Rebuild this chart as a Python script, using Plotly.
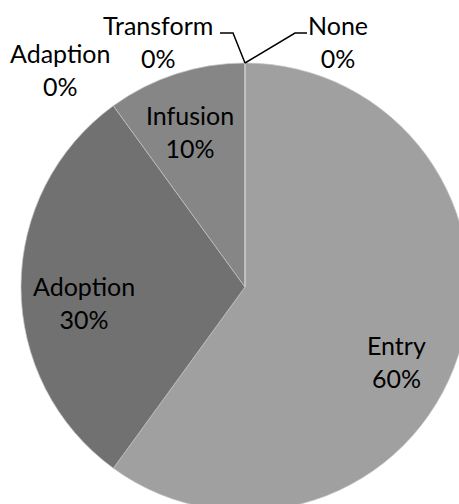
import plotly.graph_objects as go

# Data
categories = ["None", "Entry", "Adoption", "Infusion", "Adaption", "Transform"]
values = [0, 60, 30, 10, 0, 0]
colors = ["#a8a8a8", "#a0a0a0", "#717171", "#868686", "#7a7a7a", "#8e8e8e"]

# Label block centres in pixels (layout only)
label_pos = {
    "None": (338, 42),
    "Entry": (396, 361),
    "Adoption": (84, 302),
    "Infusion": (190, 131),
    "Adaption": (60, 69),
    "Transform": (158, 42),
}

W, H = 490, 574
CX, CY, R = 245, 287, 224

total = sum(values)
fig = go.Figure(go.Pie(
    labels=categories,
    values=values,
    sort=False,
    direction="clockwise",
    rotation=0,
    marker=dict(colors=colors, line=dict(color="#c4c4c4", width=0.7)),
    textinfo="none",
    hoverinfo="label+percent",
    showlegend=False,
    domain=dict(x=[(CX - R) / W, (CX + R) / W], y=[1 - (CY + R) / H, 1 - (CY - R) / H]),
))

annotations = []
for cat, val in zip(categories, values):
    px, py = label_pos[cat]
    pct = round(100 * val / total)
    annotations.append(dict(
        x=px / W, y=1 - py / H, xref="paper", yref="paper",
        text=f"{cat}<br>{pct}%", showarrow=False,
        xanchor="center", yanchor="middle",
        font=dict(family="Lato", size=25, color="black"),
    ))

# Leader lines for the zero slices
shapes = [
    dict(type="path", xref="paper", yref="paper",
         path=f"M {220/W},{1-33/H} L {233/W},{1-33/H} L {245/W},{1-63/H}",
         line=dict(color="black", width=1.5)),
    dict(type="path", xref="paper", yref="paper",
         path=f"M {245/W},{1-63/H} L {295/W},{1-33/H} L {307/W},{1-33/H}",
         line=dict(color="black", width=1.5)),
]

fig.update_layout(
    width=W, height=H,
    margin=dict(l=0, r=0, t=0, b=0),
    paper_bgcolor="white",
    annotations=annotations,
    shapes=shapes,
)

fig.write_html(
    "out.html",
    config={"displayModeBar": False},
    post_script="document.body.style.margin='0';document.body.style.overflow='hidden';document.documentElement.style.overflow='hidden';",
)
